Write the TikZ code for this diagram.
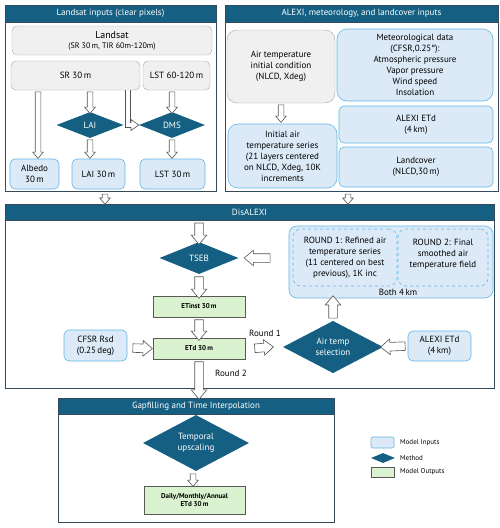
\documentclass[tikz,border=0pt]{standalone}
\usepackage{fontspec}
\setmainfont{PT Sans}
\usetikzlibrary{shapes.geometric,shapes.arrows,calc}
\definecolor{hdrblue}{HTML}{156082}
\definecolor{panelline}{HTML}{34495A}
\definecolor{greyfill}{HTML}{F0F0F0}
\definecolor{greyline}{HTML}{A6A6A6}
\definecolor{infill}{HTML}{DCEAF7}
\definecolor{inline}{HTML}{62B6E6}
\definecolor{outfill}{HTML}{DAF2D0}
\definecolor{outline}{HTML}{595959}
\definecolor{arrline}{HTML}{555555}

\begin{document}
\begin{tikzpicture}[x=1pt,y=-1pt,
    panel/.style={draw=panelline, line width=0.8pt, inner sep=0pt},
    hdrbar/.style={draw=panelline, line width=0.8pt, fill=hdrblue, text=white, inner sep=0pt, font=\small},
    greybox/.style={draw=greyline, fill=greyfill, rounded corners=5pt, align=center, inner sep=0pt, font=\small},
    inbox/.style={draw=inline, line width=0.6pt, fill=infill, rounded corners=5pt, align=center, inner sep=0pt, font=\small},
    outbox/.style={draw=outline, fill=outfill, align=center, inner sep=0pt, font=\scriptsize\bfseries},
    method/.style={diamond, fill=hdrblue, text=white, inner sep=0pt, align=center, font=\small},
    arrowbody/.style={single arrow, draw=arrline, fill=white, line width=0.6pt, minimum width=0pt, single arrow tip angle=80, single arrow head indent=0pt},
    smallarr/.style={inner sep=2.5pt, single arrow head extend=2.5pt},
    bigarr/.style={inner sep=4pt, single arrow head extend=3.5pt},
    blockarr/.style={to path={let \p1=(\tikztostart), \p2=(\tikztotarget),
        \n1={veclen(\x2-\x1,\y2-\y1)}, \n2={atan2(\y2-\y1,\x2-\x1)} in
        node[arrowbody,#1,minimum height=\n1,rotate=\n2] at ($(\p1)!0.5!(\p2)$) {}}},
    blockarr/.default=smallarr]
  \useasboundingbox (0,0) rectangle (500,528);
  % Landsat inputs
  \node[panel, minimum width=211, minimum height=186] (lspanel) at (110.5,98) {};
  \node[hdrbar, minimum width=211, minimum height=17] (lshdr) at (110.5,13.5) {Landsat inputs (clear pixels)};
  \node[greybox, minimum width=200, minimum height=29] (landsat) at (112,40.5) {\normalsize Landsat\\[-1pt]\footnotesize (SR 30\,m, TIR 60m-120m)};
  \node[greybox, minimum width=129, minimum height=29] (sr) at (75.5,75.5) {SR 30\,m};
  \node[greybox, minimum width=67, minimum height=29] (lst60) at (176.5,75.5) {LST 60-120\,m};
  \node[method, minimum width=67, minimum height=26] (lai) at (90,125) {LAI};
  \node[method, minimum width=66, minimum height=26] (dms) at (172,125) {DMS};
  \node[inbox, minimum width=49, minimum height=30] (albedo) at (34.5,174) {Albedo\\30\,m};
  \node[inbox, minimum width=53, minimum height=30] (lai30) at (98.5,174) {LAI 30\,m};
  \node[inbox, minimum width=65, minimum height=30] (lst30) at (172.5,174) {LST 30\,m};
  \coordinate (elbow) at (128,125);
  % ALEXI, meteorology, landcover
  \node[panel, minimum width=273, minimum height=186] (alpanel) at (361.5,98) {};
  \node[hdrbar, minimum width=273, minimum height=17] (alhdr) at (361.5,13.5) {ALEXI, meteorology, and landcover inputs};
  \node[greybox, rounded corners=10pt, minimum width=108, minimum height=73] (airinit) at (281,66.5) {Air temperature\\initial condition\\(NLCD, Xdeg)};
  \node[inbox, rounded corners=10pt, minimum width=109, minimum height=64] (airseries) at (282.5,156) {Initial air\\temperature series\\(21 layers centered\\on NLCD, Xdeg, 10K\\increments};
  \node[inbox, rounded corners=10pt, minimum width=156, minimum height=72] (meteo) at (415,65) {Meteorological data\\(CFSR,0.25\textdegree):\\Atmospheric pressure\\Vapor pressure\\Wind speed\\Insolation};
  \node[inbox, minimum width=154, minimum height=37] (alexietd) at (416,124.5) {ALEXI ETd\\(4\,km)};
  \node[inbox, minimum width=154, minimum height=40] (landcover) at (416,167) {Landcover\\(NLCD,30\,m)};
  % DisALEXI
  \node[panel, minimum width=489, minimum height=184] (dispanel) at (249.5,296) {};
  \node[hdrbar, minimum width=489, minimum height=16] (dishdr) at (249.5,212) {DisALEXI};
  \node[method, minimum width=79, minimum height=32] (tseb) at (199,258) {TSEB};
  \node[outbox, minimum width=92, minimum height=21] (etinst) at (199,306.5) {ETinst 30\,m};
  \node[outbox, minimum width=92, minimum height=21] (etd) at (199,348.5) {ETd 30\,m};
  \node[inbox, minimum width=63, minimum height=31] (cfsr) at (95.5,345.5) {CFSR Rsd\\(0.25\,deg)};
  \node[method, minimum width=100, minimum height=40] (airsel) at (333,347) {Air temp\\selection};
  \node[inbox, minimum width=63, minimum height=30] (alexi4) at (439.5,346) {ALEXI ETd\\(4\,km)};
  \node[inbox, rounded corners=8pt, minimum width=204, minimum height=72] (rounds) at (391,262) {};
  \node[inbox, dashed, rounded corners=8pt, minimum width=104, minimum height=57] (round1) at (345,257.5) {ROUND 1: Refined air\\temperature series\\(11 centered on best\\previous), 1K inc};
  \node[inbox, dashed, rounded corners=8pt, minimum width=90, minimum height=57] (round2) at (443,257.5) {ROUND 2: Final\\smoothed air\\temperature field\\[-2pt]\mbox{}};
  \node[font=\small, inner sep=0pt] (bothlbl) at (398,292) {Both 4\,km};
  \node[font=\small, inner sep=0pt] (round1lbl) at (265,333) {Round 1};
  \node[font=\small, inner sep=0pt] (round2lbl) at (231,373) {Round 2};
  % Gapfilling
  \node[panel, minimum width=276, minimum height=124] (gappanel) at (196,460) {};
  \node[hdrbar, minimum width=276, minimum height=16] (gaphdr) at (196,406) {Gapfilling and Time Interpolation};
  \node[method, minimum width=106, minimum height=41] (temporal) at (196,443) {Temporal\\upscaling};
  \node[outbox, minimum width=101, minimum height=28] (daily) at (194.5,500) {Daily/Monthly/Annual\\ETd 30\,m};
  % legend
  \node[inbox, rounded corners=2pt, minimum width=23, minimum height=11] (leginp) at (382.5,442.5) {};
  \node[method, minimum width=24, minimum height=10] (legmeth) at (383,458) {};
  \node[outbox, minimum width=23, minimum height=10] (legout) at (382.5,472) {};
  \node[font=\scriptsize, anchor=west, inner sep=0pt] (leginptxt) at (400,442.5) {Model Inputs};
  \node[font=\scriptsize, anchor=west, inner sep=0pt] (legmethtxt) at (400,458) {Method};
  \node[font=\scriptsize, anchor=west, inner sep=0pt] (legouttxt) at (400,472) {Model Outputs};
  % arrows
  \draw[blockarr] ($(sr.south)+(-37.5,0)$) to ($(albedo.north)+(3.5,-2)$);
  \draw[blockarr] (sr.south -| lai.north) to (lai.north);
  \draw[blockarr] (lst60.south -| dms.north) to (dms.north);
  \draw[blockarr] (lai.south) to ($(lai30.north -| lai.south)+(0,-2)$);
  \draw[blockarr] (dms.south) to ($(lst30.north -| dms.south)+(0,-2)$);
  \draw[draw=arrline, line width=0.6pt, fill=white] ($(sr.south -| elbow)+(-2.5,0)$) -- ($(elbow)+(-2.5,2.5)$) -- ($(elbow)+(3,2.5)$)
    -- ($(elbow)+(3,5.5)$) -- (dms.west) -- ($(elbow)+(3,-5.5)$) -- ($(elbow)+(3,-2.5)$) -- ($(elbow)+(2.5,-2.5)$) -- ($(sr.south -| elbow)+(2.5,0)$);
  \draw[blockarr] (airinit.south) to ($(airseries.north -| airinit.south)+(0,-3)$);
  \draw[blockarr] ($(lspanel.south)+(-5.5,1)$) to ($(dispanel.north)+(-144.5,-1)$);
  \draw[blockarr] ($(alpanel.south)+(-13.5,1)$) to ($(dispanel.north)+(98.5,-1)$);
  \draw[blockarr=bigarr] (dishdr.south -| tseb.north) to (tseb.north);
  \draw[blockarr=bigarr] (tseb.south) to (etinst.north);
  \draw[blockarr=bigarr] (etinst.south) to (etd.north);
  \draw[blockarr=bigarr] ($(cfsr.east)+(3,2.5)$) to ($(etd.west)+(-3,0)$);
  \draw[blockarr=bigarr] ($(etd.east)+(7,0)$) to ($(airsel.west)+(-12,0)$);
  \draw[blockarr=bigarr] (airsel.north) to (rounds.south -| airsel.north);
  \draw[blockarr=bigarr] (alexi4.west) to (airsel.east);
  \draw[blockarr=bigarr] ($(rounds.west |- tseb.east)+(-16,0)$) to ($(tseb.east)+(8,0)$);
  \draw[blockarr=bigarr] (etd.south) to ($(gappanel.north -| etd.south)+(0,-1)$);
  \draw[blockarr] ($(temporal.south)+(-3,1)$) to ($(daily.north)+(-1.5,-1)$);
\end{tikzpicture}
\end{document}
